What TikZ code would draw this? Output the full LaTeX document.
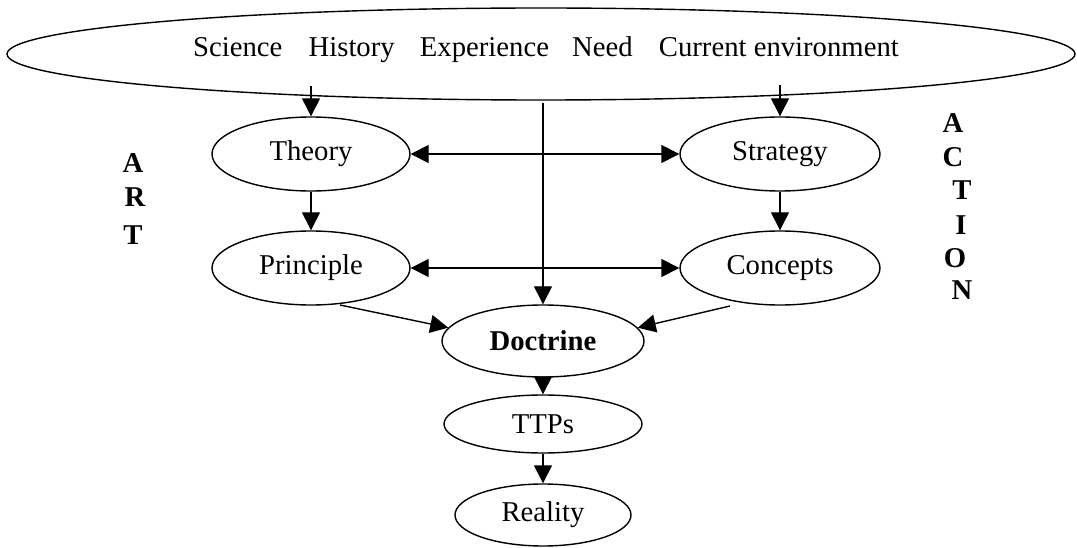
\documentclass[tikz,border=0pt]{standalone}
\usepackage{fontspec}
\setmainfont{Liberation Serif}
\usetikzlibrary{shapes.geometric,arrows.meta}
\tikzset{
  every node/.style={font=\fontsize{28.7}{34}\selectfont, inner sep=0pt},
  oval/.style={draw, ellipse, line width=1.4pt, minimum width=198pt, minimum height=74pt},
  arr/.style={line width=1.4pt, -{Triangle[length=18pt,width=18pt]}},
  dbl/.style={line width=1.4pt, {Triangle[length=18pt,width=18pt]}-{Triangle[length=18pt,width=18pt]}},
  letter/.style={font=\fontsize{28.7}{34}\selectfont\bfseries, anchor=base}
}
\begin{document}
\begin{tikzpicture}[x=1pt,y=-1pt]
\useasboundingbox (0,0) rectangle (1077,548);
% source ellipse
\node[draw, ellipse, line width=1.4pt, minimum width=1068pt, minimum height=92pt,
      text height=24pt, text depth=18pt] (src) at (541,54)
  {\hspace*{10pt}Science\hspace{19pt} History\hspace{18pt} Experience\hspace{16pt} Need\hspace{19pt} Current environment};
% nodes
\node[oval] (theory) at (311,154) {Theory};
\node[oval, minimum width=200pt] (strategy) at (780,154) {Strategy};
\node[oval] (principle) at (311,268) {Principle};
\node[oval, minimum width=200pt] (concepts) at (780,268) {Concepts};
\node[oval, minimum width=202pt, minimum height=72pt] (doctrine) at (543,341) {\textbf{Doctrine}};
\node[oval, minimum width=198pt, minimum height=58pt] (ttps) at (543,424) {TTPs};
\node[oval, minimum width=176pt, minimum height=62pt] (reality) at (543,515) {Reality};
% side letters
\node[letter] (artA) at (133,173) {A};
\node[letter] (artR) at (135,207) {R};
\node[letter] (artT) at (133,245) {T};
\node[letter] (actA) at (953,133) {A};
\node[letter] (actC) at (953,167) {C};
\node[letter] (actT) at (962,200) {T};
\node[letter] (actI) at (961,235) {I};
\node[letter] (actO) at (955,268) {O};
\node[letter] (actN) at (962,300) {N};
% free ends
\coordinate (t1) at (311,86);
\coordinate (s1) at (780,85);
\coordinate (c1) at (543,103);
\coordinate (pd) at (340,305);
\coordinate (cd) at (730,306);
% connectors
\draw[arr] (t1) -- (theory);
\draw[arr] (s1) -- (strategy);
\draw[arr] (c1) -- (doctrine);
\draw[dbl] (theory) -- (strategy);
\draw[dbl] (principle) -- (concepts);
\draw[arr] (theory) -- (principle);
\draw[arr] (strategy) -- (concepts);
\draw[arr] (pd) -- (doctrine.172);
\draw[arr] (cd) -- (doctrine.8);
\draw[arr] (doctrine) -- (ttps);
\draw[arr] (ttps) -- (reality);
\end{tikzpicture}
\end{document}
